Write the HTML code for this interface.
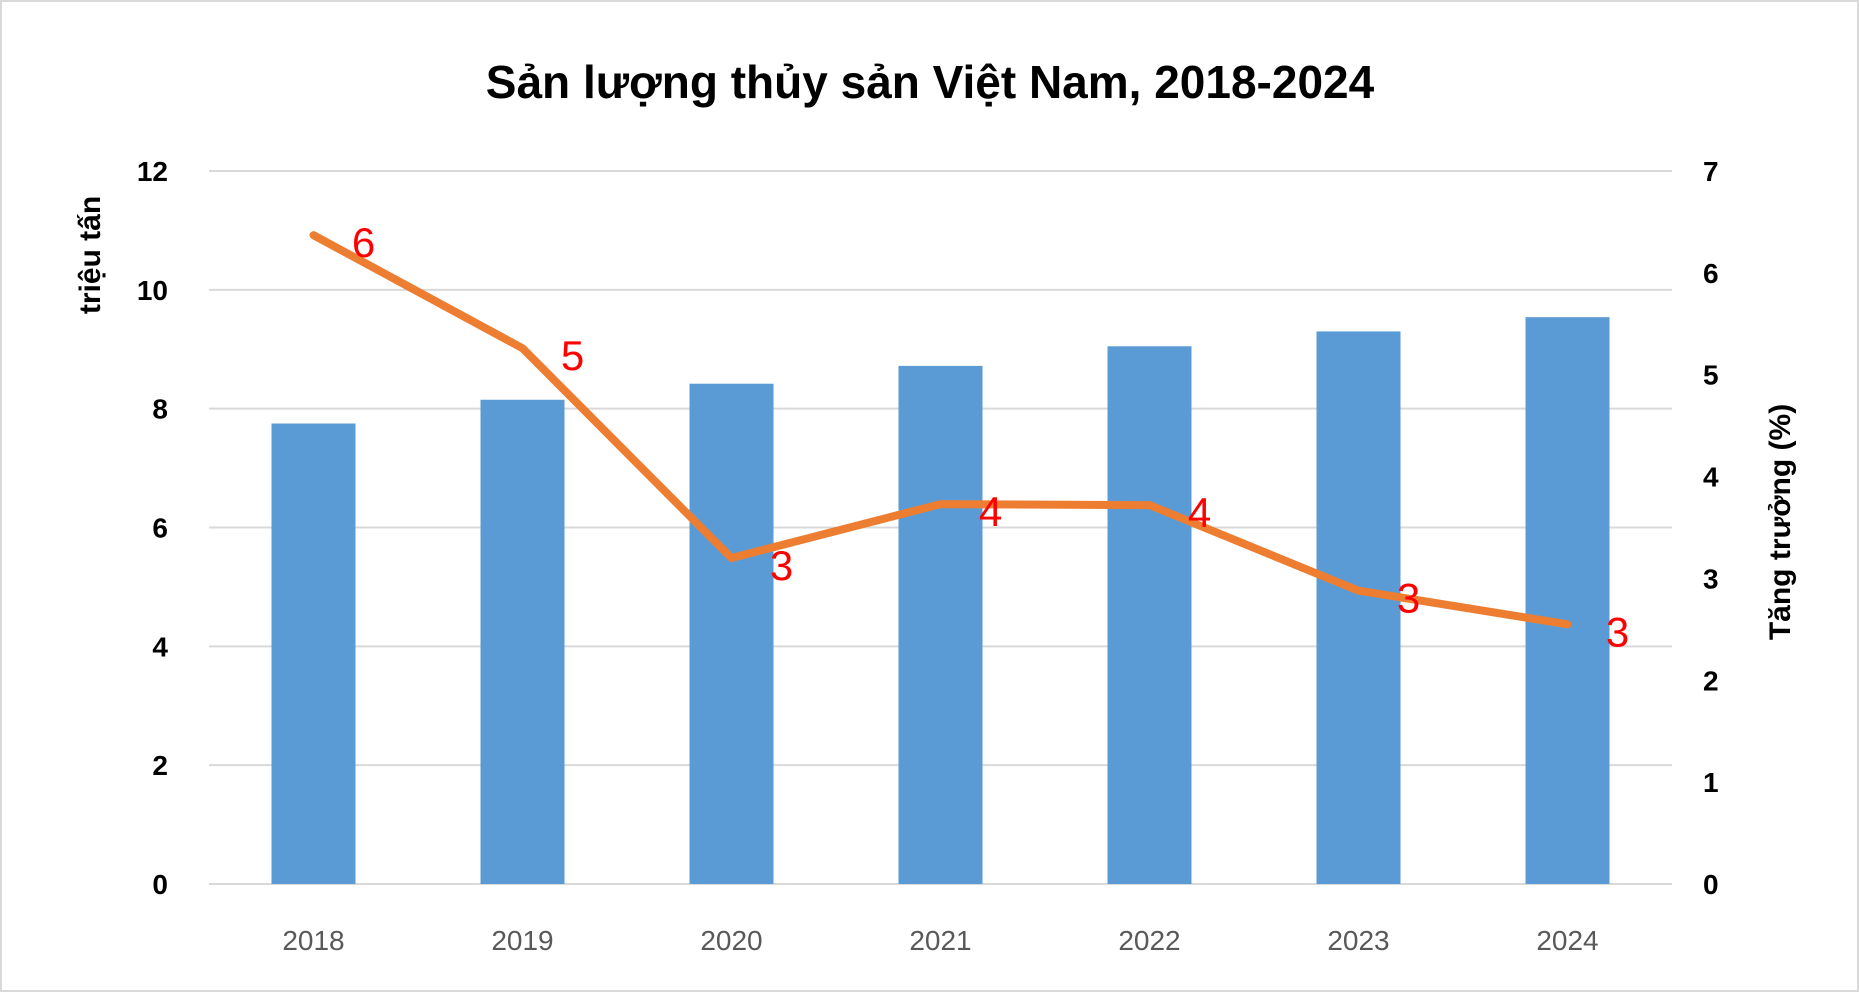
<!DOCTYPE html>
<html><head><meta charset="utf-8"><style>
body{margin:0;background:#fff}
svg{display:block;font-family:"Liberation Sans",sans-serif}
</style></head><body>
<svg id="c" width="1859" height="992">
<rect x="1" y="1" width="1857" height="990" fill="#fff" stroke="#d9d9d9" stroke-width="2"/>
<text x="930" y="98" text-anchor="middle" font-size="46" font-weight="bold" fill="#000">Sản lượng thủy sản Việt Nam, 2018-2024</text>
<text transform="translate(100,255) rotate(-90)" text-anchor="middle" font-size="30" font-weight="bold">triệu tấn</text>
<text transform="translate(1790,522) rotate(-90)" text-anchor="middle" font-size="30" font-weight="bold">Tăng trưởng (%)</text>
<g id="g"></g>
</svg>
<script>
const categories=["2018","2019","2020","2021","2022","2023","2024"];
const production=[7.75,8.15,8.42,8.72,9.05,9.30,9.54];
const growth=[6.37,5.26,3.20,3.73,3.72,2.88,2.55];
const growthLabels=["6","5","3","4","4","3","3"];
const leftTicks=[0,2,4,6,8,10,12];
const rightTicks=[0,1,2,3,4,5,6,7];
const NS="http://www.w3.org/2000/svg";
const g=document.getElementById('g');
const L=209,R=1672,T=171,B=884;
const yL=v=>B-(v/12)*(B-T);
const yR=v=>B-(v/7)*(B-T);
const step=(R-L)/categories.length;
const xC=i=>L+step*(i+0.5);
function mk(t,a){const e=document.createElementNS(NS,t);for(const k in a)e.setAttribute(k,a[k]);g.appendChild(e);return e;}
leftTicks.forEach(v=>{
 const l=mk('line',{x1:L,x2:R,y1:yL(v),y2:yL(v),stroke:'#d9d9d9','stroke-width':2});
 
 
 const t=mk('text',{x:168,y:yL(v)+10,'text-anchor':'end','font-size':28,'font-weight':'bold'});
 t.textContent=v;
 
 
});
rightTicks.forEach(v=>{
 const t=mk('text',{x:1703,y:yR(v)+10,'font-size':28,'font-weight':'bold'});
 t.textContent=v;
 
 
});
categories.forEach((c,i)=>{
 const b=mk('rect',{x:xC(i)-42,y:yL(production[i]),width:84,height:B-yL(production[i]),fill:'#5b9bd5'});
 
 
 const t=mk('text',{x:xC(i),y:950,'text-anchor':'middle','font-size':28,fill:'#595959'});
 t.textContent=c;
 
 
});
const pl=mk('polyline',{points:growth.map((v,i)=>xC(i)+','+yR(v)).join(' '),fill:'none',stroke:'#ed7d31','stroke-width':8,'stroke-linejoin':'round','stroke-linecap':'round'});


growth.forEach((v,i)=>{
 const t=mk('text',{x:xC(i)+50,y:yR(v)+22,'text-anchor':'middle','font-size':42,fill:'#ff0000'});
 t.textContent=growthLabels[i];
 
 
});
</script>
</body></html>
